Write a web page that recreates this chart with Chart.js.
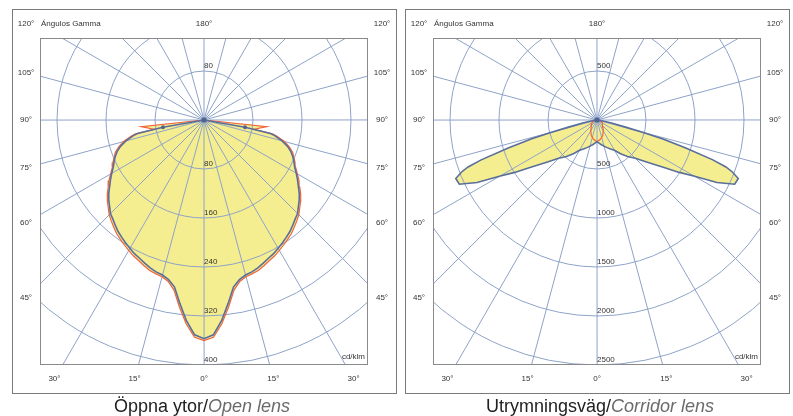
<!DOCTYPE html>
<html><head><meta charset="utf-8">
<script src="https://cdn.jsdelivr.net/npm/chart.js@4"></script>
<style>
html,body{margin:0;padding:0;background:#fff;width:793px;height:416px;overflow:hidden;font-family:"Liberation Sans",Arial,sans-serif;}
canvas{position:absolute;top:0;}
#c1{left:0}
#c2{left:400px}
.cap{position:absolute;top:396px;font-size:18px;line-height:20px;text-align:center;color:#222;white-space:nowrap;}
.cap i{color:#6b6b6b;}
</style></head><body>
<canvas id="c1" width="400" height="416"></canvas>
<canvas id="c2" width="393" height="416"></canvas>
<div class="cap" style="left:2px;width:400px">Öppna ytor/<i>Open lens</i></div>
<div class="cap" style="left:400px;width:400px">Utrymningsväg/<i>Corridor lens</i></div>
<script>
// ---- data (gamma angle in degrees from nadir, intensity in cd/klm) ----
const gammaOpenC0 = [0,2.5,5,7.5,10,12.5,15,17.5,20,22.5,25,27.5,30,32.5,35,37.5,40,42.5,45,47.5,50,52.5,55,57.5,60,62.5,65,67.5,70,72.5,75,77.5,78.5,80,90];
const openC0      = [357,351,329,302,277,267,262,260,257,253,249,246,242,238,234,230,225,220,216,209,203,196,188,181,174,167,162,157,151,143,132,118,111,68,0];
const gammaOpenC90 = [0,2.5,5,7.5,10,12.5,15,17.5,20,22.5,25,27.5,30,32.5,35,37.5,40,42.5,45,47.5,50,52.5,55,57.5,60,62.5,65,67.5,70,72.5,75,77.5,78.5,79.5,84,90];
const openC90      = [360,355,334,308,282,270,265,263,261,257,253,250,246,242,238,234,229,224,219,212,206,199,191,184,176,169,164,159,154,146,136,122,115,83,103,0];
const gammaCorrC0 = [0,5,10,15,20,25,30,35,40,45,50,55,57.5,60,62.5,65,67.5,69,70,71,72.5,74,75,76,78,80,85,90];
const corrC0      = [221,236,256,276,300,326,356,420,485,553,670,855,995,1150,1380,1550,1560,1480,1400,1250,950,700,480,300,150,60,15,0];
const gammaCorrC90 = [0,10,20,30,40,50,60,70,80,90];
const corrC90      = [221,200,170,128,95,75,60,40,20,0];
const openRings = [80,160,240,320,400];
const corrRings = [500,1000,1500,2000,2500];
const sideAngles = [45,60,75,90,105,120];
const bottomAngles = [-30,-15,0,15,30];
const topLabel = '180°';
const gammaTitle = 'Ángulos Gamma';
const unitLabel = 'cd/klm';

function polarPoints(g, v){
  const pts=[];
  for(let i=g.length-1;i>=0;i--){const a=g[i]*Math.PI/180; pts.push({x:-v[i]*Math.sin(a), y:-v[i]*Math.cos(a), g:g[i]});}
  for(let i=1;i<g.length;i++){const a=g[i]*Math.PI/180; pts.push({x:v[i]*Math.sin(a), y:-v[i]*Math.cos(a), g:g[i]});}
  return pts;
}

const FONT = '8px "Liberation Sans", Arial, sans-serif';
const polarGrid = {
  id:'polarGrid',
  beforeDatasetsDraw(chart, args, o){
    const {ctx, chartArea:a, scales:{x,y}} = chart;
    const cx=x.getPixelForValue(0), cy=y.getPixelForValue(0);
    const k=x.getPixelForValue(1)-cx;
    ctx.save();
    ctx.beginPath(); ctx.rect(a.left,a.top,a.width,a.height); ctx.clip();
    ctx.fillStyle=o.fill;
    chart.data.datasets.forEach((ds,i)=>{
      const pts=chart.getDatasetMeta(i).data;
      ctx.beginPath();
      pts.forEach((p,j)=> j?ctx.lineTo(p.x,p.y):ctx.moveTo(p.x,p.y));
      ctx.closePath(); ctx.fill();
    });
    ctx.strokeStyle=o.grid; ctx.lineWidth=1;
    o.rings.forEach(r=>{ctx.beginPath(); ctx.arc(cx,cy,r*k,0,2*Math.PI); ctx.stroke();});
    const R=2*Math.max(a.width,a.height);
    for(let d=0; d<360; d+=15){
      const t=(d+0.02)*Math.PI/180;
      ctx.beginPath(); ctx.moveTo(cx+R*Math.sin(t), cy+R*Math.cos(t)); ctx.lineTo(cx+0.01,cy+0.01); ctx.stroke();
    }
    ctx.restore();
    ctx.save();
    ctx.font=FONT; ctx.fillStyle='#333'; ctx.textAlign='left'; ctx.textBaseline='middle';
    o.rings.forEach(r=>{
      const yb=cy+r*k, yt=cy-r*k;
      if(yb<=a.bottom+1) ctx.fillText(String(r), cx, yb-5);
      if(yt-10>=a.top) ctx.fillText(String(r), cx, yt-5);
    });
    ctx.restore();
  },
  afterDraw(chart, args, o){
    const {ctx, chartArea:a, scales:{x,y}} = chart;
    const cx=x.getPixelForValue(0), cy=y.getPixelForValue(0);
    ctx.save();
    ctx.fillStyle='#4d6392'; ctx.beginPath(); ctx.arc(cx,cy,2.5,0,2*Math.PI); ctx.fill();
    ctx.strokeStyle='#8a8a8a'; ctx.lineWidth=1;
    ctx.strokeRect(a.left+0.5, a.top+0.5, a.width-1, a.height-1);
    ctx.strokeStyle='#7a7a7a';
    ctx.strokeRect(a.left-28+0.5, a.top-29+0.5, a.width+56, a.height+57);
    ctx.font=FONT; ctx.fillStyle='#333'; ctx.textBaseline='middle';
    const topY=a.top-14, botY=a.bottom+14, lx=a.left-14, rx=a.right+14;
    ctx.textAlign='center';
    ctx.fillText(topLabel, cx, topY);
    sideAngles.forEach(g=>{
      const t=g*Math.PI/180;
      let yy=cy+(cx-lx)*Math.cos(t)/Math.sin(t);
      if(yy<topY) yy=topY;
      ctx.fillText(g+'°', lx, yy);
      ctx.fillText(g+'°', rx, yy);
    });
    bottomAngles.forEach(g=>{
      const t=g*Math.PI/180;
      ctx.fillText(Math.abs(g)+'°', cx+(botY-cy)*Math.tan(t), botY);
    });
    ctx.textAlign='left';
    ctx.fillText(gammaTitle, a.left+1, topY);
    ctx.textAlign='right';
    ctx.fillText(unitLabel, a.right-3, a.bottom-8);
    ctx.restore();
  }
};

function makeChart(id, cfg){
  return new Chart(document.getElementById(id), {
    type:'scatter',
    data:{datasets:[
      {data:polarPoints(cfg.g90,cfg.v90), showLine:true, borderColor:'#f0643a', borderWidth:1.2, pointRadius:0, order:2},
      {data:polarPoints(cfg.g0,cfg.v0), showLine:true, borderColor:'#5a6e9c', borderWidth:1.6,
        pointRadius:c=>(c.raw && cfg.markers.includes(c.raw.g))?2:0, pointBackgroundColor:'#4d6392', pointBorderWidth:0, order:1}
    ]},
    options:{responsive:false, animation:false, events:[],
      layout:{padding:cfg.pad},
      scales:{x:{type:'linear',min:-cfg.xr,max:cfg.xr,display:false}, y:{type:'linear',min:cfg.ymin,max:cfg.ymax,display:false}},
      plugins:{legend:{display:false}, tooltip:{enabled:false},
        polarGrid:{rings:cfg.rings, fill:'#f5ee90', grid:'#8ea3c8'}}
    },
    plugins:[polarGrid]
  });
}

makeChart('c1', {g0:gammaOpenC0, v0:openC0, g90:gammaOpenC90, v90:openC90, rings:openRings, markers:[80],
  pad:{left:40,top:38,right:32,bottom:51}, xr:267.76, ymin:-400, ymax:133.88});
makeChart('c2', {g0:gammaCorrC0, v0:corrC0, g90:gammaCorrC90, v90:corrC90, rings:corrRings, markers:[],
  pad:{left:33,top:38,right:32,bottom:51}, xr:1673.5, ymin:-2500, ymax:836.7});
</script>
</body></html>
